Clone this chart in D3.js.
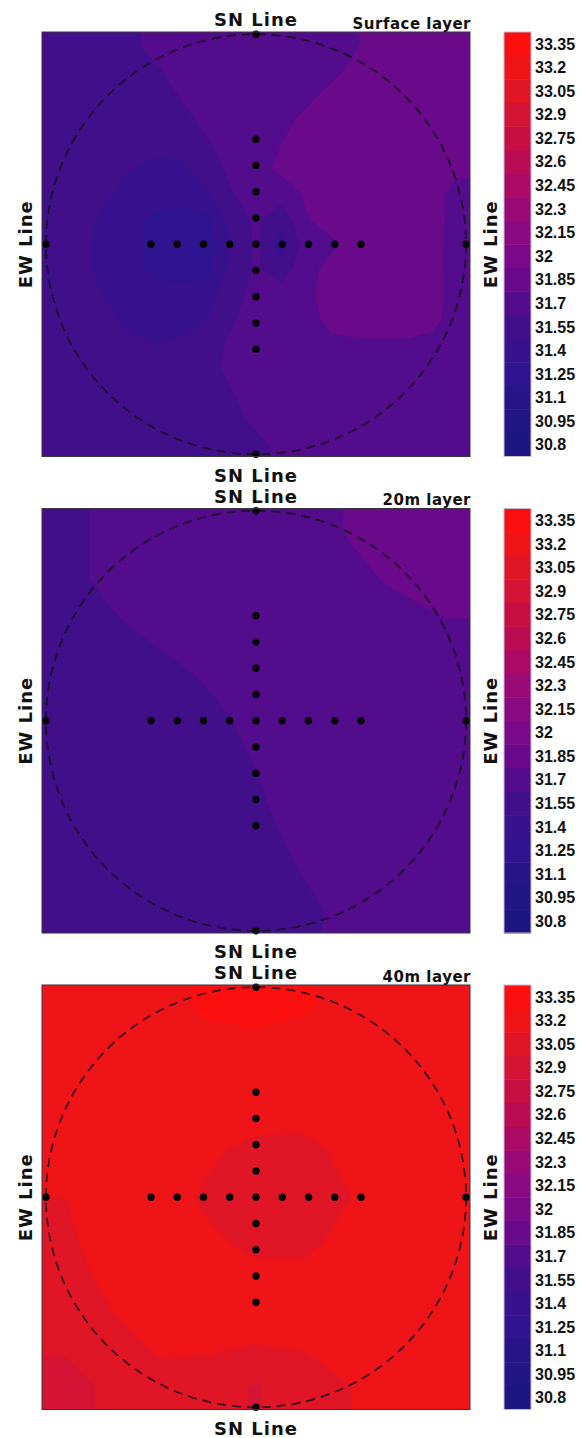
<!DOCTYPE html>
<html>
<head>
<meta charset="utf-8">
<script src="https://cdn.jsdelivr.net/npm/d3@7"></script>
<style>
  body { margin: 0; background: #fff; }
  svg text { font-family: "DejaVu Sans", sans-serif; font-weight: bold; fill: #111; }
  svg text.tick { font-family: "Liberation Sans", Arial, sans-serif; }
</style>
</head>
<body>
<svg id="chart" width="582" height="1438"></svg>
<script>
// Salinity class boundaries (psu) and their fill colours, low to high
const levels = [30.8, 30.95, 31.1, 31.25, 31.4, 31.55, 31.7, 31.85, 32.0,
                32.15, 32.3, 32.45, 32.6, 32.75, 32.9, 33.05, 33.2, 33.35];
const levelLabels = ["30.8", "30.95", "31.1", "31.25", "31.4", "31.55", "31.7", "31.85", "32",
                     "32.15", "32.3", "32.45", "32.6", "32.75", "32.9", "33.05", "33.2", "33.35"];
const levelColors = ["#1e1680", "#221684", "#261488", "#2e1490", "#38128e", "#420f8b",
                     "#530c8b", "#680a8a", "#7a0a88", "#8a0a84", "#9a0a76", "#aa0a64",
                     "#ba0c52", "#c80e42", "#d41434", "#e01626", "#ee1418", "#fc0f0f"];

const layerNames = ["Surface layer", "20m layer", "40m layer"];

// Station positions along the two survey lines (grid units from the centre)
const ewStations = [-8, -4, -3, -2, -1, 0, 1, 2, 3, 4, 8];
const snStations = [8, 4, 3, 2, 1, -1, -2, -3, -4, -8];

// Gridded salinity, rows north to south, columns west to east
const surfaceGrid = [
  [31.62,31.62,31.62,31.66,31.76,31.77,31.77,31.77,31.77,31.77,31.77,31.78,31.84,31.93,31.93,31.93,31.93],
  [31.62,31.62,31.62,31.62,31.68,31.76,31.77,31.77,31.77,31.77,31.77,31.79,31.90,31.93,31.93,31.93,31.93],
  [31.62,31.62,31.62,31.62,31.63,31.71,31.77,31.77,31.77,31.77,31.80,31.90,31.93,31.93,31.93,31.93,31.93],
  [31.62,31.62,31.62,31.62,31.62,31.65,31.74,31.77,31.77,31.80,31.89,31.93,31.93,31.93,31.93,31.93,31.93],
  [31.62,31.62,31.62,31.62,31.62,31.62,31.68,31.76,31.79,31.85,31.91,31.93,31.93,31.93,31.93,31.93,31.92],
  [31.62,31.62,31.60,31.55,31.48,31.50,31.62,31.73,31.80,31.88,31.93,31.93,31.93,31.93,31.93,31.92,31.88],
  [31.62,31.62,31.57,31.50,31.47,31.47,31.52,31.69,31.76,31.76,31.87,31.93,31.93,31.93,31.93,31.90,31.80],
  [31.62,31.60,31.52,31.44,31.37,31.33,31.36,31.60,31.73,31.60,31.84,31.92,31.93,31.93,31.93,31.90,31.80],
  [31.62,31.60,31.50,31.44,31.36,31.30,31.30,31.56,31.72,31.47,31.78,31.82,31.92,31.93,31.93,31.90,31.78],
  [31.62,31.60,31.50,31.44,31.37,31.32,31.34,31.58,31.72,31.62,31.80,31.90,31.93,31.93,31.93,31.90,31.78],
  [31.62,31.61,31.54,31.47,31.46,31.46,31.48,31.64,31.75,31.77,31.82,31.90,31.93,31.93,31.93,31.89,31.80],
  [31.62,31.62,31.60,31.50,31.47,31.47,31.54,31.68,31.76,31.77,31.80,31.89,31.92,31.92,31.92,31.88,31.80],
  [31.62,31.62,31.62,31.60,31.55,31.58,31.64,31.72,31.77,31.77,31.78,31.82,31.83,31.83,31.83,31.82,31.78],
  [31.62,31.62,31.62,31.62,31.62,31.62,31.65,31.73,31.77,31.77,31.77,31.77,31.77,31.77,31.77,31.77,31.76],
  [31.62,31.62,31.62,31.62,31.62,31.62,31.62,31.69,31.76,31.77,31.77,31.77,31.77,31.77,31.77,31.77,31.77],
  [31.62,31.62,31.62,31.62,31.62,31.62,31.62,31.65,31.74,31.77,31.77,31.77,31.77,31.77,31.77,31.77,31.77],
  [31.62,31.62,31.62,31.62,31.62,31.62,31.62,31.62,31.66,31.74,31.77,31.77,31.77,31.77,31.77,31.77,31.77]
];

const grid20m = [
  [31.66,31.74,31.77,31.77,31.77,31.80,31.86,31.90,31.92],
  [31.66,31.74,31.77,31.77,31.77,31.78,31.82,31.87,31.90],
  [31.64,31.68,31.74,31.77,31.77,31.77,31.78,31.80,31.84],
  [31.62,31.62,31.66,31.72,31.76,31.77,31.77,31.78,31.80],
  [31.62,31.62,31.62,31.66,31.74,31.77,31.77,31.77,31.78],
  [31.62,31.62,31.62,31.64,31.70,31.76,31.77,31.77,31.77],
  [31.62,31.62,31.62,31.63,31.68,31.74,31.77,31.77,31.77],
  [31.62,31.62,31.62,31.62,31.66,31.71,31.76,31.77,31.77],
  [31.62,31.62,31.62,31.62,31.64,31.68,31.73,31.77,31.77]
];

const grid40m = [
  [33.28,33.30,33.33,33.36,33.37,33.36,33.32,33.28,33.27],
  [33.27,33.28,33.30,33.32,33.32,33.30,33.28,33.27,33.27],
  [33.25,33.27,33.28,33.28,33.27,33.27,33.27,33.27,33.27],
  [33.22,33.25,33.27,33.22,33.17,33.16,33.24,33.27,33.27],
  [33.20,33.25,33.25,33.18,33.12,33.08,33.20,33.27,33.27],
  [33.18,33.25,33.27,33.22,33.18,33.17,33.25,33.27,33.27],
  [33.15,33.22,33.27,33.27,33.25,33.27,33.27,33.27,33.27],
  [33.08,33.17,33.23,33.25,33.22,33.23,33.25,33.27,33.25],
  [33.00,33.08,33.16,33.10,33.04,33.12,33.20,33.22,33.20]
];

const grids = [surfaceGrid, grid20m, grid40m];

// ---- layout ----
const panelLeft = 42, panelWidth = 428, panelHeight = 424.5;
const panelTops = [32, 508.5, 985];
const barLeft = 504, barWidth = 27;
const extent = 8.15;          // half-width of the mapped square, grid units
const ringRadius = 8;         // sampling circle radius, grid units

const svg = d3.select("#chart");
const defs = svg.append("defs");
const colorOf = d3.scaleOrdinal().domain(levels).range(levelColors);

// repeat the outer ring of cells so contour bands reach the frame edges cleanly
function padGrid(grid) {
  const rows = grid.map(r => [r[0], ...r, r[r.length - 1]]);
  return [rows[0], ...rows, rows[rows.length - 1]];
}

grids.forEach((grid, k) => {
  const top = panelTops[k];
  const g = svg.append("g");
  const x = d3.scaleLinear().domain([-extent, extent]).range([panelLeft, panelLeft + panelWidth]);
  const yExt = extent * panelHeight / panelWidth;
  const y = d3.scaleLinear().domain([-yExt, yExt]).range([top + panelHeight, top]);

  defs.append("clipPath").attr("id", "clip" + k)
    .append("rect")
    .attr("x", panelLeft).attr("y", top)
    .attr("width", panelWidth).attr("height", panelHeight);

  // filled contours
  const n = grid.length, m = grid[0].length;
  const padded = padGrid(grid);
  const gx = d3.scaleLinear().domain([1, m + 1]).range([panelLeft, panelLeft + panelWidth]);
  const gy = d3.scaleLinear().domain([1, n + 1]).range([top, top + panelHeight]);
  const path = d3.geoPath(d3.geoTransform({
    point(px, py) { this.stream.point(gx(px), gy(py)); }
  }));
  const bands = d3.contours().size([m + 2, n + 2]).thresholds(levels)(padded.flat());

  const field = g.append("g").attr("clip-path", `url(#clip${k})`);
  field.selectAll("path.band").data(bands).join("path")
    .attr("class", "band")
    .attr("d", path)
    .attr("fill", d => colorOf(d.value));

  // sampling circle
  g.append("ellipse")
    .attr("cx", x(0)).attr("cy", y(0))
    .attr("rx", x(ringRadius) - x(0)).attr("ry", y(0) - y(ringRadius))
    .attr("fill", "none")
    .attr("stroke", "#140a18")
    .attr("stroke-width", 1.7)
    .attr("stroke-dasharray", "9,6")
    .attr("opacity", 0.85);

  // stations
  g.selectAll("circle.ew").data(ewStations).join("circle")
    .attr("class", "ew")
    .attr("cx", d => x(d)).attr("cy", y(0)).attr("r", 3.7).attr("fill", "#050505");
  g.selectAll("circle.sn").data(snStations).join("circle")
    .attr("class", "sn")
    .attr("cx", x(0)).attr("cy", d => y(d)).attr("r", 3.7).attr("fill", "#050505");

  // frame
  g.append("rect")
    .attr("x", panelLeft).attr("y", top)
    .attr("width", panelWidth).attr("height", panelHeight)
    .attr("fill", "none").attr("stroke", "#3a3340").attr("stroke-width", 1);

  // axis titles
  const cx = panelLeft + panelWidth / 2, cy = top + panelHeight / 2;
  g.append("text").attr("x", cx).attr("y", top - 6)
    .attr("text-anchor", "middle").attr("font-size", 18).attr("letter-spacing", 1)
    .text("SN Line");
  g.append("text").attr("x", cx).attr("y", top + panelHeight + 25)
    .attr("text-anchor", "middle").attr("font-size", 18).attr("letter-spacing", 1)
    .text("SN Line");
  g.append("text").attr("transform", `translate(32,${cy}) rotate(-90)`)
    .attr("text-anchor", "middle").attr("font-size", 18).attr("letter-spacing", 1)
    .text("EW Line");
  g.append("text").attr("transform", `translate(497,${cy}) rotate(-90)`)
    .attr("text-anchor", "middle").attr("font-size", 18).attr("letter-spacing", 1)
    .text("EW Line");
  g.append("text").attr("x", panelLeft + panelWidth + 1).attr("y", top - 3.5)
    .attr("text-anchor", "end").attr("font-size", 15).attr("letter-spacing", 0.5)
    .text(layerNames[k]);

  // colour bar
  const band = d3.scaleBand().domain(levels.slice().reverse()).range([top, top + panelHeight]);
  const bar = svg.append("g");
  bar.selectAll("rect").data(levels).join("rect")
    .attr("x", barLeft).attr("y", d => band(d))
    .attr("width", barWidth).attr("height", band.bandwidth() + 0.5)
    .attr("fill", d => colorOf(d));
  bar.append("rect")
    .attr("x", barLeft).attr("y", top).attr("width", barWidth).attr("height", panelHeight)
    .attr("fill", "none").attr("stroke", "#c8b8d0").attr("stroke-width", 1);
  bar.selectAll("text").data(levels).join("text")
    .attr("class", "tick")
    .attr("x", barLeft + barWidth + 4)
    .attr("y", d => band(d) + band.bandwidth() / 2)
    .attr("dy", "0.36em")
    .attr("font-size", 16)
    .text((d, i) => levelLabels[i]);
});
</script>
</body>
</html>
